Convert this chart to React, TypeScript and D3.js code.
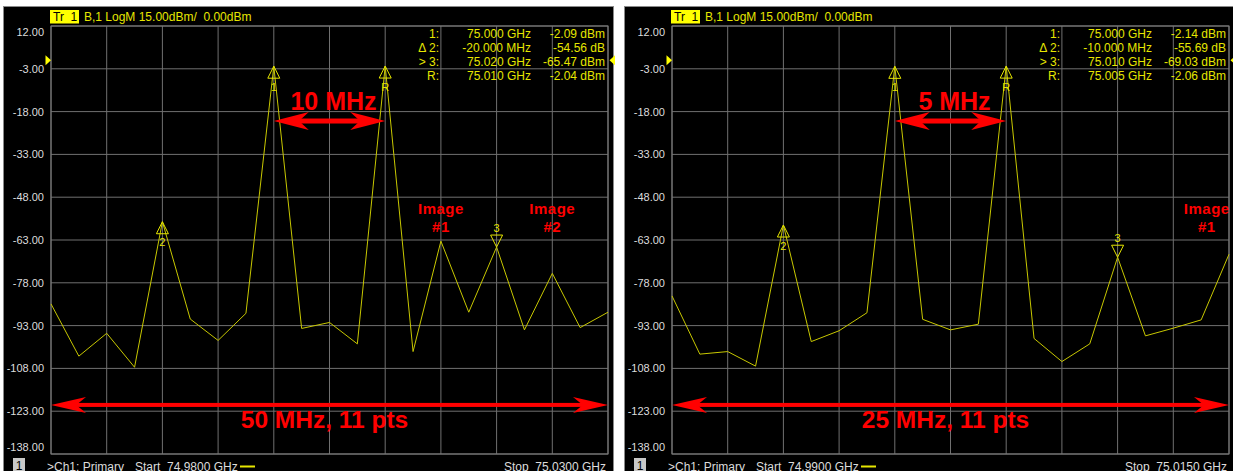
import React from "react";
import * as d3 from "d3";

// ---------- data ----------
const yTicks = [12, -3, -18, -33, -48, -63, -78, -93, -108, -123, -138];

const leftSweep = [74.98, 75.03]; // GHz
const rightSweep = [74.99, 75.015]; // GHz

// 21 displayed trace points per panel (dBm)
const leftTrace = [
  -85.4, -103.7, -95.7, -107.6, -56.6, -90.7, -98.2, -88.7, -2.09, -94.0, -91.9,
  -99.4, -2.04, -102.1, -63.4, -88.3, -65.47, -94.5, -74.7, -93.7, -88.3,
];
const rightTrace = [
  -82.6, -103.0, -102.1, -107.2, -57.75, -98.6, -94.8, -88.5, -2.14, -90.8, -94.5,
  -92.5, -2.06, -97.5, -105.6, -99.4, -69.03, -96.6, -93.9, -91.0, -68.0,
];

const leftMarkers = [
  { name: "1", idx: 8, active: false },
  { name: "2", idx: 4, active: false },
  { name: "R", idx: 12, active: false },
  { name: "3", idx: 16, active: true },
];
const rightMarkers = [
  { name: "1", idx: 8, active: false },
  { name: "2", idx: 4, active: false },
  { name: "R", idx: 12, active: false },
  { name: "3", idx: 16, active: true },
];

const leftTable = [
  ["1:", "75.000 GHz", "-2.09 dBm"],
  ["\u0394 2:", "-20.000 MHz", "-54.56 dB"],
  ["> 3:", "75.020 GHz", "-65.47 dBm"],
  ["R:", "75.010 GHz", "-2.04 dBm"],
];
const rightTable = [
  ["1:", "75.000 GHz", "-2.14 dBm"],
  ["\u0394 2:", "-10.000 MHz", "-55.69 dB"],
  ["> 3:", "75.010 GHz", "-69.03 dBm"],
  ["R:", "75.005 GHz", "-2.06 dBm"],
];

const leftSpacing = { from: 75.0, to: 75.01, level: -21.3, text: "10 MHz" };
const rightSpacing = { from: 75.0, to: 75.005, level: -21.3, text: "5 MHz" };

const leftSpan = { level: -120.8, text: "50 MHz, 11 pts" };
const rightSpan = { level: -120.8, text: "25 MHz, 11 pts" };

const leftImages = [
  { lines: ["Image", "#1"], freq: 75.015, level: -54 },
  { lines: ["Image", "#2"], freq: 75.025, level: -54 },
];
const rightImages = [{ lines: ["Image", "#1"], freq: 75.014, level: -54 }];

const leftStartLabel = "74.9800 GHz";
const leftStopLabel = "75.0300 GHz";
const rightStartLabel = "74.9900 GHz";
const rightStopLabel = "75.0150 GHz";

const headerText = "B,1 LogM 15.00dBm/  0.00dBm";
const refLevel = 0;

// ---------- style ----------
const FONT = "'Liberation Sans', Arial, Helvetica, sans-serif";
const YEL = "#e6e600";
const TRACE = "#c8c800";
const GRID = "#707070";
const RED = "#ff0000";
const LABEL = "#dcdcdc";

const PL = 51;
const PR = 608;
const PT = 26;
const PB = 454;

function stealth(x: number, y: number, dir: number, len: number, hw: number) {
  const b = x - dir * len;
  const n = x - dir * len * 0.72;
  return `${x},${y} ${b},${y - hw} ${n},${y} ${b},${y + hw}`;
}

function DoubleArrow({ x1, x2, y, len, hw, th }: any) {
  const a = x1 + len * 0.72;
  const b = x2 - len * 0.72;
  return (
    <g fill={RED}>
      <rect x={a - 1} y={y - th / 2} width={b - a + 2} height={th} />
      <polygon points={stealth(x1, y, -1, len, hw)} />
      <polygon points={stealth(x2, y, 1, len, hw)} />
    </g>
  );
}

function Panel({ dx, sweep, trace, markers, table, spacing, span, images, startLabel, stopLabel }: any) {
  const x = d3.scaleLinear().domain(sweep).range([PL, PR]);
  const y = d3.scaleLinear().domain([12, -138]).range([PT, PB]);
  const n = trace.length;
  const freqs = trace.map((_: number, i: number) => sweep[0] + (i * (sweep[1] - sweep[0])) / (n - 1));
  const gridF = d3.range(11).map((k) => sweep[0] + (k * (sweep[1] - sweep[0])) / 10);
  const line = d3
    .line<number>()
    .x((_, i) => x(freqs[i]))
    .y((d) => y(d));
  const ry = y(refLevel);
  const colR = [439, 531, 605];

  return (
    <g transform={`translate(${dx},0)`}>
      <rect x={3.5} y={6.5} width={610} height={480} fill="#000" stroke="#8a8a8a" />
      {/* header */}
      <rect x={50} y={10} width={29} height={13.5} fill="#ffff00" />
      <text x={53} y={21} fontSize={12} fontFamily={FONT} fill="#000" style={{ whiteSpace: "pre" }}>
        {"Tr  1"}
      </text>
      <text x={84} y={21} fontSize={12} fontFamily={FONT} fill={YEL} style={{ whiteSpace: "pre" }}>
        {headerText}
      </text>
      {/* grid */}
      {yTicks.map((t) => (
        <line key={"h" + t} x1={PL} x2={PR} y1={y(t)} y2={y(t)} stroke={GRID} strokeWidth={1} />
      ))}
      {gridF.map((f: number, k: number) => (
        <line key={"v" + k} x1={x(f)} x2={x(f)} y1={PT} y2={PB} stroke={GRID} strokeWidth={1} />
      ))}
      <rect x={PL} y={PT} width={PR - PL} height={PB - PT} fill="none" stroke="#7a7a7a" />
      {/* y labels */}
      {yTicks.map((t, i) => (
        <text
          key={"l" + t}
          x={44}
          y={y(t) + (i === 0 ? 6 : i === yTicks.length - 1 ? -7 : 0)}
          fontSize={11}
          fontFamily={FONT}
          fill={LABEL}
          textAnchor="end"
          dominantBaseline="central"
        >
          {t.toFixed(2)}
        </text>
      ))}
      {/* ref markers */}
      <polygon points={`45.5,${ry - 5} 51,${ry} 45.5,${ry + 5}`} fill="#ffff00" />
      <polygon points={`615,${ry - 5} 609.5,${ry} 615,${ry + 5}`} fill="#ffff00" />
      {/* trace */}
      <path d={line(trace) || ""} fill="none" stroke={TRACE} strokeWidth={1} />
      {/* markers */}
      {markers.map((m: any) => {
        const mx = x(freqs[m.idx]);
        const my = y(trace[m.idx]);
        return m.active ? (
          <g key={m.name}>
            <polygon points={`${mx - 6},${my - 12} ${mx + 6},${my - 12} ${mx},${my}`} fill="none" stroke={YEL} />
            <text x={mx} y={my - 15} fontSize={11} fontFamily={FONT} fill={YEL} textAnchor="middle">
              {m.name}
            </text>
          </g>
        ) : (
          <g key={m.name}>
            <polygon points={`${mx - 6},${my + 12} ${mx + 6},${my + 12} ${mx},${my}`} fill="none" stroke={YEL} />
            <text x={mx} y={my + 24.5} fontSize={11} fontFamily={FONT} fill={YEL} textAnchor="middle">
              {m.name}
            </text>
          </g>
        );
      })}
      {/* marker table */}
      {table.map((row: string[], i: number) =>
        row.map((c, j) => (
          <text
            key={i + "-" + j}
            x={colR[j]}
            y={37.5 + i * 14.2}
            fontSize={12}
            fontFamily={FONT}
            fill={YEL}
            textAnchor="end"
          >
            {c}
          </text>
        ))
      )}
      {/* spacing annotation */}
      <DoubleArrow x1={x(spacing.from)} x2={x(spacing.to)} y={y(spacing.level)} len={35} hw={9} th={5} />
      <text
        x={(x(spacing.from) + x(spacing.to)) / 2 + 4}
        y={y(spacing.level) - 11}
        fontSize={25}
        fontWeight="bold"
        fontFamily={FONT}
        fill={RED}
        textAnchor="middle"
      >
        {spacing.text}
      </text>
      {/* span annotation */}
      <DoubleArrow x1={PL} x2={PR} y={y(span.level)} len={35} hw={8} th={4} />
      <text
        x={(PL + PR) / 2 - 5}
        y={y(span.level) + 23}
        fontSize={24.5}
        fontWeight="bold"
        fontFamily={FONT}
        fill={RED}
        textAnchor="middle"
      >
        {span.text}
      </text>
      {/* image labels */}
      {images.map((im: any, k: number) => (
        <text
          key={"im" + k}
          x={x(im.freq)}
          y={y(im.level)}
          fontSize={15}
          fontWeight="bold"
          fontFamily={FONT}
          fill={RED}
          textAnchor="middle"
          letterSpacing={0.5}
        >
          {im.lines.map((l: string, li: number) => (
            <tspan key={li} x={x(im.freq)} dy={li === 0 ? 0 : 18}>
              {l}
            </tspan>
          ))}
        </text>
      ))}
      {/* bottom status */}
      <rect x={13} y={458} width={12} height={13} fill="#c8c8c8" />
      <text x={19} y={469.5} fontSize={12} fontFamily={FONT} fill="#000" textAnchor="middle">
        1
      </text>
      <text x={47} y={470.5} fontSize={12} fontFamily={FONT} fill={LABEL}>
        {">Ch1: Primary"}
      </text>
      <text x={135} y={470.5} fontSize={12} fontFamily={FONT} fill={LABEL} style={{ whiteSpace: "pre" }}>
        {"Start  " + startLabel}
      </text>
      <line x1={240} x2={255} y1={466.5} y2={466.5} stroke={YEL} strokeWidth={2} />
      <text x={606} y={470.5} fontSize={12} fontFamily={FONT} fill={LABEL} textAnchor="end" style={{ whiteSpace: "pre" }}>
        {"Stop  " + stopLabel}
      </text>
    </g>
  );
}

export default function App() {
  return (
    <svg
      width={1233}
      height={471}
      style={{ position: "absolute", left: 0, top: 0, background: "#fff" }}
    >
      <rect x={0} y={0} width={1233} height={471} fill="#fff" />
      <Panel
        dx={0}
        sweep={leftSweep}
        trace={leftTrace}
        markers={leftMarkers}
        table={leftTable}
        spacing={leftSpacing}
        span={leftSpan}
        images={leftImages}
        startLabel={leftStartLabel}
        stopLabel={leftStopLabel}
      />
      <Panel
        dx={621}
        sweep={rightSweep}
        trace={rightTrace}
        markers={rightMarkers}
        table={rightTable}
        spacing={rightSpacing}
        span={rightSpan}
        images={rightImages}
        startLabel={rightStartLabel}
        stopLabel={rightStopLabel}
      />
    </svg>
  );
}
